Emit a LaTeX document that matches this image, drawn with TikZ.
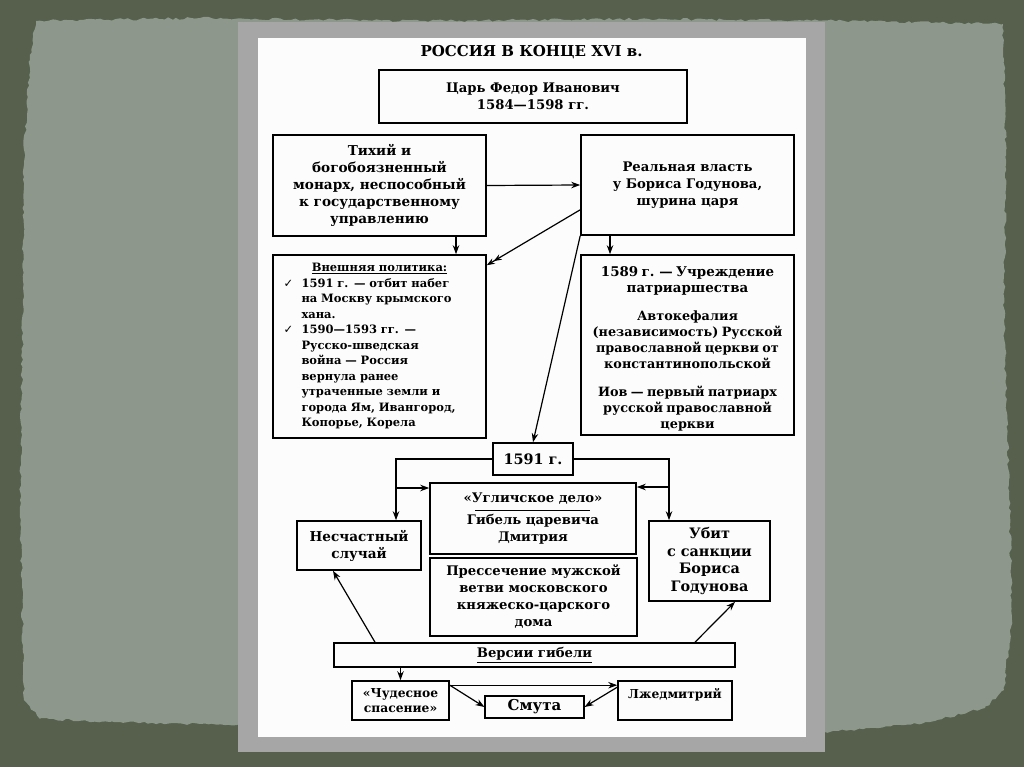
\documentclass[tikz,border=0pt]{standalone}
\usepackage{fontspec}
\setmainfont{DejaVu Serif}
\newfontfamily\symf{DejaVu Sans}
\usetikzlibrary{arrows.meta,decorations.pathmorphing,calc}
\definecolor{bgdark}{RGB}{86,96,76}
\definecolor{paperc}{RGB}{141,151,139}
\definecolor{framec}{RGB}{166,166,166}
\definecolor{pagec}{RGB}{252,252,252}
\newcommand\fsT{\fontsize{15}{17}\selectfont}
\newcommand\fsA{\fontsize{13.2}{17}\selectfont}
\newcommand\fsB{\fontsize{13.6}{17}\selectfont}
\newcommand\fsC{\fontsize{14.4}{17.5}\selectfont}
\newcommand\fsV{\fontsize{11.5}{15.5}\selectfont}
\newcommand\fsU{\fontsize{13.4}{16.5}\selectfont}
\newcommand\fsW{\fontsize{12.8}{16}\selectfont}
\newcommand\fsS{\fontsize{12.3}{15}\selectfont}
\pgfmathsetseed{7}
\begin{document}
\begin{tikzpicture}[x=1pt,y=-1pt,
  box/.style={draw=black,line width=1.6pt,inner sep=0pt,align=center,font=\bfseries\fsA},
  arr/.style={-{Stealth[length=9pt,width=6.5pt]},line width=1.2pt},
  darr/.style={-{Stealth[length=8pt,width=6pt]Stealth[length=8pt,width=6pt]},line width=1.2pt}]
\useasboundingbox (0,0) rectangle (1024,767);
\fill[bgdark] (0,0) rectangle (1024,767);
\fill[paperc, decorate, decoration={random steps,segment length=4pt,amplitude=1.3pt}]
  (36,21) -- (200,18) -- (420,21) -- (640,19) -- (860,21) -- (1003,24) -- (1006,150)
  -- (1004,320) -- (1009,480) -- (1012,620) -- (1004,690) -- (985,708) -- (930,722)
  -- (870,728) -- (830,732) -- (500,730) -- (200,724) -- (110,722) -- (40,719)
  -- (24,700) -- (20,500) -- (23,300) -- (24,150) -- (30,60) -- cycle;
\fill[framec] (238,22) rectangle (825,752);
\fill[pagec] (258,38) rectangle (806,737);

\node[font=\bfseries\fsT] (title) at (531.5,52) {РОССИЯ В КОНЦЕ XVI в.};

\node[box,minimum width=308pt,minimum height=53pt] (car) at (533,96.5)
  {Царь Федор Иванович\\1584—1598 гг.};
\node[box,minimum width=213pt,minimum height=101pt,font=\bfseries\fsB] (tih) at (379.5,185.5)
  {Тихий и\\богобоязненный\\монарх, неспособный\\к государственному\\управлению};
\node[box,minimum width=213pt,minimum height=100pt] (real) at (687.5,185)
  {Реальная власть\\у Бориса Годунова,\\шурина царя};
\node[box,minimum width=213pt,minimum height=183pt,text width=192pt,align=left,font=\bfseries\fsV] (vnesh) at (379.5,346.5)
  {\makebox[192pt]{\underline{Внешняя политика:}}\\
   \makebox[18pt][l]{\symf ✓}1591 г. — отбит набег\\
   \hspace*{18pt}на Москву крымского\\
   \hspace*{18pt}хана.\\
   \makebox[18pt][l]{\symf ✓}1590—1593 гг. —\\
   \hspace*{18pt}Русско-шведская\\
   \hspace*{18pt}война — Россия\\
   \hspace*{18pt}вернула ранее\\
   \hspace*{18pt}утраченные земли и\\
   \hspace*{18pt}города Ям, Ивангород,\\
   \hspace*{18pt}Копорье, Корела};
\node[box,minimum width=213pt,minimum height=180pt] (patr) at (687.5,345) {};
\node[inner sep=0pt,text width=211pt,align=center,font=\bfseries] (patrtext) at (687.5,349)
  {{\fsU 1589 г. — Учреждение\\патриаршества\par}\vspace{12pt}
   {\fsW Автокефалия\\(независимость) Русской\\православной церкви от\\константинопольской\par}\vspace{12pt}
   {\fsW Иов — первый патриарх\\русской православной\\церкви\par}};
\node[box,minimum width=80pt,minimum height=32pt,font=\bfseries\fsC] (y1591) at (533,459) {1591 г.};
\node[box,minimum width=206pt,minimum height=71pt] (ugl) at (533,518.5)
  {«Угличское дело»\\[5pt]Гибель царевича\\Дмитрия};
\node[box,minimum width=207pt,minimum height=78pt] (pres) at (533.5,597)
  {Прессечение мужской\\ветви московского\\княжеско-царского\\дома};
\node[box,minimum width=124pt,minimum height=49pt,font=\bfseries\fsB] (nes) at (359,545.5)
  {Несчастный\\случай};
\node[box,minimum width=121pt,minimum height=80pt,font=\bfseries\fsC] (ubit) at (709.5,561)
  {Убит\\с санкции\\Бориса\\Годунова};
\node[box,minimum width=401pt,minimum height=24pt] (vers) at (534.5,655)
  {\underline{Версии гибели}};
\node[box,minimum width=97pt,minimum height=39pt,font=\bfseries\fsS] (chud) at (400.5,700.5)
  {«Чудесное\\спасение»};
\node[box,minimum width=99pt,minimum height=22pt,line width=1.1pt,font=\bfseries\fontsize{15}{17}\selectfont] (smuta) at (534.5,707) {Смута};
\node[box,minimum width=114pt,minimum height=39pt,font=\bfseries\fsS] (lzhe) at (675,700.5)
  {Лжедмитрий\\\mbox{}};

\draw[line width=0.9pt] (475,510) -- (590,510);

\coordinate (cA) at (456,0);
\coordinate (cB) at (610,0);
\coordinate (cL) at (396,0);
\coordinate (cR) at (669,0);
\draw[arr] (tih.east) -- (real.west);
\draw[arr] (tih.south -| cA) -- (vnesh.north -| cA);
\draw[darr] ([yshift=26pt]real.south west) -- ([yshift=-11pt]vnesh.north east);
\draw[arr] (real.south -| cB) -- (patr.north -| cB);
\draw[arr] (real.south west) -- (y1591.north);
\draw[arr] (y1591.west) -| (nes.north -| cL);
\coordinate (bL) at (396,488);
\draw[arr] (bL) -- (bL -| ugl.west);
\draw[arr] (y1591.east) -| (ubit.north -| cR);
\coordinate (bR) at (669,487);
\draw[arr] (bR) -- (bR -| ugl.east);
\coordinate (v1) at (375,0);
\coordinate (n1) at (333,0);
\coordinate (v2) at (695,0);
\coordinate (u2) at (735,0);
\draw[arr] (vers.north -| v1) -- (nes.south -| n1);
\draw[arr] (vers.north -| v2) -- (ubit.south -| u2);
\draw[arr] (vers.south -| chud.north) -- (chud.north);
\draw[arr] ([yshift=-5pt]chud.north east) -- (smuta.west);
\draw[arr,line width=0.8pt] ([yshift=-5pt]chud.north east) -- ([yshift=-5pt]lzhe.north west);
\draw[arr] ([yshift=-7pt]lzhe.north west) -- (smuta.east);
\end{tikzpicture}
\end{document}
